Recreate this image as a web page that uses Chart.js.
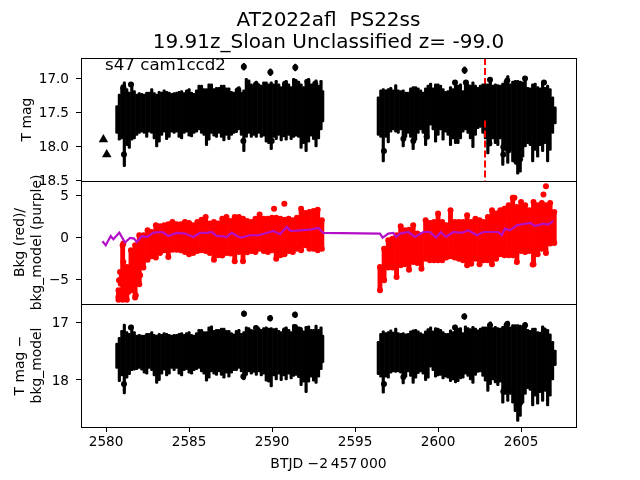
<!DOCTYPE html>
<html>
<head>
<meta charset="utf-8">
<title>AT2022afl PS22ss</title>
<script src="https://cdn.jsdelivr.net/npm/chart.js@4/dist/chart.umd.min.js"></script>
<style>
  html, body { margin: 0; padding: 0; background: #fff; }
  canvas { display: block; }
</style>
</head>
<body>
<canvas id="lc" width="640" height="480"></canvas>
<script>
// Each cadence bin has a faint and a bright end of its error bars
const orbit1X = [2580.65,2580.80,2580.95,2581.10,2581.25,2581.40,2581.55,2581.70,2581.85,2582.00,2582.15,2582.30,2582.45,2582.60,2582.75,2582.90,2583.05,2583.20,2583.35,2583.50,2583.65,2583.80,2583.95,2584.10,2584.25,2584.40,2584.55,2584.70,2584.85,2585.00,2585.15,2585.30,2585.45,2585.60,2585.75,2585.90,2586.05,2586.20,2586.35,2586.50,2586.65,2586.80,2586.95,2587.10,2587.25,2587.40,2587.55,2587.70,2587.85,2588.00,2588.15,2588.30,2588.45,2588.60,2588.75,2588.90,2589.05,2589.20,2589.35,2589.50,2589.65,2589.80,2589.95,2590.10,2590.25,2590.40,2590.55,2590.70,2590.85,2591.00,2591.15,2591.30,2591.45,2591.60,2591.75,2591.90,2592.05,2592.20,2592.35,2592.50,2592.65,2592.80,2592.95,2593.05];
const orbit2X = [2596.40,2596.55,2596.70,2596.85,2597.00,2597.15,2597.30,2597.45,2597.60,2597.75,2597.90,2598.05,2598.20,2598.35,2598.50,2598.65,2598.80,2598.95,2599.10,2599.25,2599.40,2599.55,2599.70,2599.85,2600.00,2600.15,2600.30,2600.45,2600.60,2600.75,2600.90,2601.05,2601.20,2601.35,2601.50,2601.65,2601.80,2601.95,2602.10,2602.25,2602.40,2602.55,2602.70,2602.85,2603.00,2603.15,2603.30,2603.45,2603.60,2603.75,2603.90,2604.05,2604.20,2604.35,2604.50,2604.65,2604.80,2604.95,2605.10,2605.25,2605.40,2605.55,2605.70,2605.85,2606.00,2606.15,2606.30,2606.45,2606.60,2606.75,2606.90,2607.05];

// T mag
const mag1TopA = [17.40,17.23,17.13,17.05,17.15,17.20,17.07,17.18,17.23,17.21,17.22,17.23,17.20,17.20,17.15,17.21,17.23,17.19,17.20,17.17,17.19,17.20,17.22,17.21,17.20,17.19,17.18,17.21,17.17,17.15,17.20,17.22,17.17,17.10,17.10,17.15,17.15,17.08,17.08,17.15,17.13,17.13,17.10,17.10,17.14,17.14,17.19,17.20,17.15,17.12,17.20,17.17,17.00,17.02,17.08,17.10,17.04,17.08,17.10,17.05,17.05,17.08,17.05,17.08,17.03,17.08,17.12,17.08,17.03,17.08,17.12,17.00,17.04,17.04,17.08,17.12,17.02,17.00,17.08,17.08,17.02,17.10,17.03,17.18];
const mag1BotA = [17.81,17.91,17.89,18.30,17.99,18.03,17.91,17.89,17.84,17.81,17.79,17.81,17.87,17.79,17.81,17.89,18.01,17.94,17.84,17.79,17.90,17.87,17.79,17.81,17.79,17.87,17.89,17.81,17.79,17.85,17.86,17.81,17.79,17.76,17.81,17.84,17.99,17.91,17.81,17.85,17.87,17.81,17.87,17.92,17.84,17.90,17.84,17.81,17.80,17.76,17.84,18.08,17.87,17.81,17.87,17.84,17.87,17.81,17.87,17.85,17.94,17.96,18.05,17.87,17.90,17.84,17.92,17.86,17.91,17.84,17.90,17.87,17.85,17.87,18.03,17.94,18.08,17.94,17.85,17.90,18.01,17.89,17.76,17.64];
const mag1TopB = [17.27,17.17,17.15,17.17,17.15,17.13,17.17,17.09,17.17,17.18,17.17,17.20,17.20,17.14,17.12,17.12,17.14,17.17,17.20,17.14,17.10,17.07,17.14,17.08,17.08,17.10,17.15,17.19,17.18,17.12,17.15,17.04,17.10,17.08,17.18,17.03,17.08,17.10,17.05,17.10,17.13,17.10,17.08,17.08,17.08,16.99,17.10,17.08,17.09,17.10,17.07,17.03,16.96,17.08,17.04,17.03,17.03,17.04,17.05,17.00,17.13,17.14,17.08,17.07,17.12,17.14,17.05,17.13,17.10,17.15,17.27,17.42];
const mag1BotB = [17.84,17.87,18.23,17.87,17.95,17.79,17.76,17.79,17.81,17.76,18.01,17.87,17.81,17.87,18.05,17.91,17.81,17.76,17.81,17.99,17.89,17.69,17.76,17.94,17.84,17.76,17.91,17.79,17.84,17.99,17.89,17.96,17.96,17.89,17.79,17.76,17.81,17.89,18.02,17.84,17.74,17.72,17.81,17.89,18.11,17.99,17.89,17.96,17.99,17.89,18.28,18.06,18.25,18.06,18.23,18.25,18.41,18.38,18.16,18.01,17.96,17.99,18.23,18.06,18.16,17.99,18.08,17.96,18.23,18.06,17.81,17.67];

// T mag - bkg_model
const mag3TopA = [17.36,17.26,17.14,17.03,17.16,17.19,17.05,17.16,17.22,17.21,17.22,17.22,17.19,17.19,17.16,17.21,17.22,17.19,17.21,17.18,17.19,17.21,17.22,17.21,17.21,17.19,17.18,17.21,17.18,17.16,17.21,17.22,17.18,17.12,17.12,17.16,17.16,17.08,17.06,17.14,17.12,17.12,17.10,17.10,17.14,17.14,17.18,17.20,17.14,17.12,17.19,17.16,17.08,17.09,17.12,17.14,17.06,17.09,17.12,17.09,17.08,17.10,17.09,17.11,17.10,17.14,17.16,17.12,17.08,17.12,17.16,17.04,17.08,17.08,17.12,17.15,17.07,17.06,17.12,17.12,17.05,17.12,17.08,17.22];
const mag3BotA = [17.80,18.03,17.93,18.24,17.97,17.91,17.84,17.83,17.82,17.80,17.83,17.88,17.90,17.80,17.84,17.93,18.06,18.01,17.90,17.83,17.93,17.90,17.80,17.84,17.80,17.90,17.93,17.84,17.82,17.88,17.90,17.84,17.82,17.80,17.86,17.90,18.02,17.97,17.86,17.90,17.92,17.86,17.92,17.97,17.88,17.95,17.88,17.84,17.84,17.80,17.86,18.00,17.92,17.86,17.90,17.87,17.92,17.86,17.93,17.90,18.02,18.04,18.12,17.93,18.00,17.90,18.01,17.93,18.00,17.90,17.98,17.94,17.92,17.96,18.10,18.04,18.22,18.04,17.95,18.02,18.06,17.95,17.82,17.70];
const mag3TopB = [17.33,17.19,17.15,17.18,17.16,17.13,17.17,17.10,17.18,17.19,17.18,17.20,17.19,17.15,17.13,17.12,17.15,17.18,17.20,17.15,17.11,17.08,17.15,17.09,17.10,17.12,17.16,17.19,17.19,17.13,17.16,17.05,17.10,17.09,17.18,17.06,17.09,17.11,17.07,17.10,17.13,17.10,17.08,17.08,17.08,16.99,17.09,17.07,17.09,17.10,17.07,17.02,16.98,17.08,17.04,17.04,17.04,17.05,17.06,17.00,17.12,17.14,17.10,17.10,17.16,17.17,17.06,17.14,17.12,17.20,17.33,17.48];
const mag3BotB = [17.91,17.95,18.23,17.95,17.97,17.88,17.86,17.87,17.86,17.88,18.07,17.95,17.86,17.94,18.06,17.97,17.89,17.86,17.90,18.01,17.97,17.78,17.84,17.95,17.93,17.92,17.98,17.95,17.97,18.03,18.00,18.05,18.03,17.98,17.97,17.90,17.94,18.00,18.06,17.92,17.87,17.86,17.94,18.02,18.20,18.08,18.00,18.05,18.10,18.04,18.40,18.25,18.37,18.25,18.40,18.55,18.72,18.63,18.40,18.25,18.15,18.18,18.45,18.28,18.42,18.22,18.37,18.20,18.45,18.28,18.00,17.75];

// isolated flares with short error bars
const flareX = [2588.30,2589.90,2591.40,2601.60];
const flare1Top = [16.78,16.86,16.79,16.83];
const flare1Bot = [16.88,16.96,16.89,16.93];
const flare3Top = [16.80,16.88,16.82,16.85];
const flare3Bot = [16.90,16.98,16.92,16.95];

// markers that stand out along the band edges
const head1X = [2581.08,2581.50,2588.27,2587.97,2589.03,2590.78,2591.38,2592.13,2592.60,2589.98,2591.90,2581.04,2588.30,2589.90,2591.40,2601.60,2596.74,2603.13,2604.17,2605.24,2606.38,2601.02,2601.68,2603.93,2603.93,2604.74,2604.94,2604.23,2597.91,2598.51,2599.31,2603.09];
const head1Y = [18.12,17.09,17.92,17.17,17.09,17.08,17.05,17.05,17.08,17.92,17.92,17.13,16.83,16.91,16.84,16.88,18.07,17.02,17.03,17.00,17.06,17.06,17.06,18.01,18.12,18.23,18.19,18.06,17.89,17.92,17.86,17.96];
const head3X = [2588.31,2589.88,2591.38,2581.08,2588.27,2581.50,2589.03,2591.38,2590.78,2591.68,2601.58,2596.74,2603.13,2604.17,2605.24,2606.38,2601.02,2604.74,2604.94,2603.93,2604.23,2597.91];
const head3Y = [16.85,16.93,16.87,18.07,17.94,17.09,17.10,17.08,17.14,17.13,16.90,18.07,17.05,17.03,17.05,17.14,17.09,18.44,18.40,18.20,18.18,17.95];

// triangles (upper limits) before the orbit starts
const limitX = [2579.84,2580.04];
const limitY = [17.90,18.12];

const eventX = 2602.83;

// Bkg scatter: upper and lower edge of the red cloud per quarter day
const bkgX1 = [2580.75,2581.00,2581.25,2581.50,2581.75,2582.00,2582.25,2582.50,2582.75,2583.00,2583.25,2583.50,2583.75,2584.00,2584.25,2584.50,2584.75,2585.00,2585.25,2585.50,2585.75,2586.00,2586.25,2586.50,2586.75,2587.00,2587.25,2587.50,2587.75,2588.00,2588.25,2588.50,2588.75,2589.00,2589.25,2589.50,2589.75,2590.00,2590.25,2590.50,2590.75,2591.00,2591.25,2591.50,2591.75,2592.00,2592.25,2592.50,2592.75,2593.00];
const bkgTop1 = [-6.31,-0.95,-3.53,-1.55,-0.95,0.24,0.24,0.83,0.64,1.43,1.31,1.43,1.55,1.83,1.55,1.55,1.83,1.71,1.43,1.83,2.10,2.42,1.63,1.83,1.63,2.22,2.42,1.94,2.42,2.42,2.22,1.94,1.83,2.22,2.70,2.22,2.22,2.34,2.34,2.22,2.10,2.22,2.02,2.34,3.41,2.90,3.02,3.14,3.29,2.02];
const bkgBot1 = [-7.42,-7.42,-7.42,-6.31,-7.18,-5.60,-3.61,-2.66,-2.26,-2.42,-1.87,-1.55,-2.34,-1.47,-1.47,-1.55,-1.75,-2.02,-1.87,-1.63,-1.55,-1.63,-1.87,-2.66,-2.14,-2.18,-1.87,-1.94,-2.86,-1.75,-2.86,-1.79,-1.63,-1.75,-1.35,-1.63,-1.75,-1.55,-2.54,-2.14,-2.02,-1.63,-1.75,-1.35,-1.55,-0.95,-1.35,-1.35,-1.55,-1.35];
const bkgX2 = [2596.50,2596.75,2597.00,2597.25,2597.50,2597.75,2598.00,2598.25,2598.50,2598.75,2599.00,2599.25,2599.50,2599.75,2600.00,2600.25,2600.50,2600.75,2601.00,2601.25,2601.50,2601.75,2602.00,2602.25,2602.50,2602.75,2603.00,2603.25,2603.50,2603.75,2604.00,2604.25,2604.50,2604.75,2605.00,2605.25,2605.50,2605.75,2606.00,2606.25,2606.50,2606.75,2607.00];
const bkgTop2 = [-3.53,-1.35,-0.36,-0.16,0.24,1.31,0.83,0.91,1.43,0.44,0.24,2.02,1.71,1.83,2.82,1.83,1.43,3.21,1.83,1.83,1.83,2.62,1.83,2.22,2.02,1.83,2.42,3.21,2.82,3.21,3.41,3.81,4.72,3.61,4.21,3.81,3.21,4.21,3.81,4.09,3.81,4.09,3.02];
const bkgBot2 = [-6.31,-5.12,-3.61,-3.61,-4.72,-3.33,-3.21,-3.85,-2.94,-3.06,-3.73,-2.54,-2.74,-2.74,-2.74,-2.74,-2.42,-2.26,-2.42,-2.54,-2.74,-3.33,-3.14,-2.54,-3.21,-2.74,-2.74,-3.21,-2.54,-2.02,-2.14,-2.14,-2.14,-2.94,-1.63,-1.75,-1.63,-3.21,-2.02,-1.35,-1.87,-0.75,-0.67];
const bkgOutX = [2590.12,2590.74,2606.50,2606.35,2604.60,2605.70,2580.84,2580.74,2580.94,2581.04,2581.14,2581.34,2581.65,2581.79,2581.54,2581.85,2582.05,2582.15,2582.29,2581.04,2580.88,2581.20,2580.84,2580.78];
const bkgOutY = [3.41,4.00,6.07,5.08,4.72,-3.25,-6.51,-7.10,-4.72,-2.94,-7.30,-6.51,-6.31,-6.90,-4.72,-5.12,-4.52,-3.53,-2.54,-0.75,-5.52,-5.91,-4.13,-5.12];

// bkg_model
const modelX = [2579.78,2579.98,2580.28,2580.44,2580.80,2581.14,2581.44,2581.69,2581.85,2582.15,2582.49,2582.85,2583.41,2583.75,2584.26,2584.76,2585.26,2585.66,2586.06,2586.36,2586.66,2587.27,2587.57,2587.87,2588.17,2588.67,2589.18,2589.88,2590.08,2590.48,2590.88,2591.12,2591.68,2592.29,2592.79,2593.09,2596.50,2596.66,2597.00,2597.31,2597.47,2597.71,2598.21,2598.61,2599.11,2599.51,2599.88,2600.16,2600.48,2600.92,2601.42,2601.82,2602.33,2602.73,2603.63,2603.83,2604.03,2604.33,2604.74,2605.54,2605.84,2606.34,2606.64,2606.94];
const modelY = [-0.48,-0.95,0.16,-0.24,0.56,-0.63,-0.08,-0.16,-0.56,0.12,0.04,0.56,0.63,0.16,0.52,0.44,0.04,0.52,0.52,0.63,0.16,0.04,0.56,0.16,-0.04,0.24,0.24,0.63,0.75,0.36,1.23,0.75,0.83,0.91,1.11,0.52,0.44,-0.04,0.44,0.52,0.04,0.44,0.63,0.04,0.63,0.63,-0.04,0.63,0.04,0.63,0.52,0.83,0.24,0.63,0.63,0.24,1.03,0.83,1.43,1.71,1.35,1.63,1.51,1.95];

const xTicks = [2580, 2585, 2590, 2595, 2600, 2605];
const titleLines = ['AT2022afl  PS22ss', '19.91z_Sloan Unclassified z= -99.0'];
const sectorLabel = 's47 cam1ccd2';

const FONT = '"DejaVu Sans"';
const RED = '#ff0000';
const PURPLE = '#b40fc8';

function zipPts(xs, ys) {
  return xs.map((x, i) => ({ x: x, y: ys[i] }));
}
function zipBars(xs, tops, bots) {
  return xs.map((x, i) => ({ x: x, y: [tops[i], bots[i]] }));
}

function barSet(data, axis, color, thickness, order) {
  return {
    type: 'bar', data: data, yAxisID: axis, grouped: false,
    barThickness: thickness, borderRadius: thickness / 2, borderSkipped: false,
    backgroundColor: color, borderWidth: 0, order: order
  };
}
function dotSet(data, axis, color, radius, order, style) {
  return {
    type: 'scatter', data: data, yAxisID: axis, showLine: false,
    pointRadius: radius, pointHoverRadius: radius, pointBorderWidth: 0,
    pointBackgroundColor: color, pointStyle: style || 'circle', order: order
  };
}
function dashSet(y0, y1, order) {
  return {
    type: 'line', data: [{ x: eventX, y: y0 }, { x: eventX, y: y1 }], yAxisID: 'y1',
    borderColor: RED, borderWidth: 2, borderDash: [7, 3], pointRadius: 0, order: order
  };
}

function yAxis(min, max, step, reverse, titleText, titlePad, fmt) {
  return {
    type: 'linear', position: 'left', stack: 'panels', stackWeight: 1,
    min: min, max: max, reverse: reverse,
    afterFit: s => { s.width = 81; },
    grid: { drawOnChartArea: false, drawTicks: true, tickLength: 5, color: '#000', tickWidth: 1 },
    border: { display: false },
    ticks: {
      stepSize: step, includeBounds: false, autoSkip: false, color: '#000', padding: 7, labelOffset: 1,
      font: { family: FONT, size: 13.6 }, callback: fmt
    },
    title: { display: true, text: titleText, color: '#000', padding: titlePad, font: { family: FONT, size: 13.9, lineHeight: 1.2 } }
  };
}

const minus = v => String(v).replace('-', '\u2212');

// axes frame + label inside the top panel
const framePlugin = {
  id: 'frames',
  afterLayout(chart) {
    // matplotlib centres the title over the axes, not the figure
    chart.titleBlock.left = chart.chartArea.left;
    chart.titleBlock.right = chart.chartArea.right;
  },
  afterDatasetsDraw(chart) {
    const c = chart.ctx;
    const a = chart.chartArea;
    c.save();
    c.strokeStyle = '#000';
    c.lineWidth = 1;
    c.strokeRect(Math.round(a.left) + 0.5, Math.round(a.top) + 0.5, Math.round(a.right - a.left), Math.round(a.bottom - a.top));
    ['y1', 'y2'].forEach(id => {
      const yb = Math.round(chart.scales[id].bottom) + 0.5;
      c.beginPath();
      c.moveTo(a.left, yb);
      c.lineTo(a.right, yb);
      c.stroke();
    });
    c.fillStyle = '#000';
    c.font = '16.67px ' + FONT;
    c.textBaseline = 'alphabetic';
    c.fillText(sectorLabel, chart.scales.x.getPixelForValue(2579.94), chart.scales.y1.getPixelForValue(16.87));
    c.restore();
  }
};

new Chart(document.getElementById('lc'), {
  data: {
    datasets: [
      // top panel: the event line sits behind the band's upper part, over its lower part
      dashSet(16.7, 17.15, 9),
      dashSet(17.62, 18.51, 0),
      barSet(zipBars(orbit1X, mag1TopA, mag1BotA), 'y1', '#000', 2.5, 3),
      barSet(zipBars(orbit2X, mag1TopB, mag1BotB), 'y1', '#000', 2.5, 3),
      barSet(zipBars(flareX, flare1Top, flare1Bot), 'y1', '#000', 2, 3),
      dotSet(zipPts(head1X, head1Y), 'y1', '#000', 3, 2),
      dotSet(zipPts(limitX, limitY), 'y1', '#000', 5.5, 2, 'triangle'),
      // middle panel
      barSet(zipBars(bkgX1, bkgTop1, bkgBot1), 'y2', RED, 4.2, 3),
      barSet(zipBars(bkgX2, bkgTop2, bkgBot2), 'y2', RED, 4.2, 3),
      dotSet(zipPts(bkgX1, bkgTop1), 'y2', RED, 3, 2),
      dotSet(zipPts(bkgX1, bkgBot1), 'y2', RED, 3, 2),
      dotSet(zipPts(bkgX2, bkgTop2), 'y2', RED, 3, 2),
      dotSet(zipPts(bkgX2, bkgBot2), 'y2', RED, 3, 2),
      dotSet(zipPts(bkgOutX, bkgOutY), 'y2', RED, 3, 2),
      { type: 'line', data: zipPts(modelX, modelY), yAxisID: 'y2', borderColor: PURPLE, borderWidth: 2.2, pointRadius: 0, tension: 0, order: 1 },
      // bottom panel
      barSet(zipBars(orbit1X, mag3TopA, mag3BotA), 'y3', '#000', 2.5, 3),
      barSet(zipBars(orbit2X, mag3TopB, mag3BotB), 'y3', '#000', 2.5, 3),
      barSet(zipBars(flareX, flare3Top, flare3Bot), 'y3', '#000', 2, 3),
      dotSet(zipPts(head3X, head3Y), 'y3', '#000', 3, 2)
    ]
  },
  options: {
    responsive: false,
    animation: false,
    layout: { padding: { right: 64, left: 0, top: 10, bottom: 0 } },
    plugins: {
      legend: { display: false },
      tooltip: { enabled: false },
      title: {
        display: true, text: titleLines, color: '#000',
        font: { family: FONT, size: 20, weight: 'normal', lineHeight: 1.1 },
        padding: { top: 0, bottom: 4 }
      }
    },
    scales: {
      x: {
        type: 'linear', position: 'bottom', min: 2578.49, max: 2608.31, offset: false,
        afterFit: s => { s.height = 53; },
        afterBuildTicks: s => { s.ticks = xTicks.map(v => ({ value: v })); },
        grid: { offset: false, drawOnChartArea: false, drawTicks: true, tickLength: 5, color: '#000' },
        border: { display: false },
        ticks: { autoSkip: false, maxRotation: 0, color: '#000', padding: 2, font: { family: FONT, size: 13.6 }, callback: v => String(v) },
        title: { display: true, text: 'BTJD \u22122\u2009457\u2009000', color: '#000', padding: { top: 4, bottom: 7 }, font: { family: FONT, size: 13.9 } }
      },
      y3: yAxis(16.683, 18.815, 1, true, ['T mag \u2212', 'bkg_model'], { top: 12, bottom: 0 }, v => String(v)),
      y2: yAxis(-7.94, 6.70, 5, false, ['Bkg (red)/', 'bkg_model (purple)'], { top: 12, bottom: 0 }, minus),
      y1: yAxis(16.7, 18.51, 0.5, true, 'T mag', { top: 19, bottom: 0 }, v => v.toFixed(1))
    }
  },
  plugins: [framePlugin]
});
</script>
</body>
</html>
